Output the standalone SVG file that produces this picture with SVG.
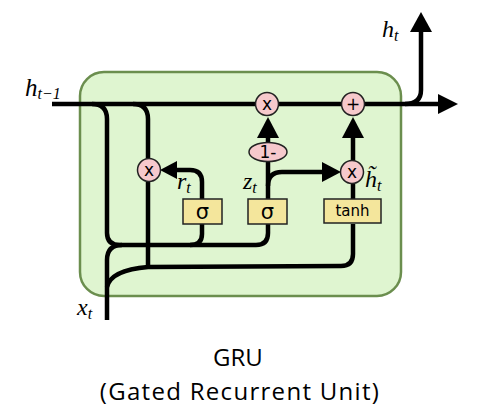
<svg xmlns="http://www.w3.org/2000/svg" width="477" height="414" viewBox="0 0 477 414">
<style>
.ln{fill:none;stroke:#000;stroke-width:4.5;stroke-linecap:butt;stroke-linejoin:round}
.ah{fill:#000;stroke:none}
.op{fill:#f6c9cc;stroke:#222;stroke-width:1.5}
.bx{fill:#f4e69c;stroke:#222;stroke-width:1.5}
.sym{font-family:"DejaVu Sans",sans-serif;font-size:17px;text-anchor:middle;fill:#000}
.math{font-family:"Liberation Serif",serif;font-style:italic;fill:#000}
.cap{font-family:"Open Sans","Noto Sans",sans-serif;font-size:24px;text-anchor:middle;fill:#000}
</style>
<rect id="cell" x="80" y="72" width="321" height="224" rx="24" fill="#dff5d0" stroke="#6b8e4e" stroke-width="2.5"/>
<g id="connectors">
<path class="ln" d="M52 104 L440 104"/>
<polygon class="ah" points="438,94 458,104 438,114"/>
<path class="ln" d="M405 104 Q421 104 421 90 L421 30"/>
<polygon class="ah" points="410,32 421,12 432,32"/>
<path class="ln" d="M92 104 Q107 104 107 119 L107 233 Q107 245 120 245 L256 245 Q268 245 268 233 L268 224"/>
<path class="ln" d="M202 224 L202 234 Q202 245 190 245"/>
<path class="ln" d="M133 104 Q148 104 148 119 L148 267"/>
<path class="ln" d="M107 320 L107 260 Q107 245 122 245"/>
<path class="ln" d="M107 287 Q111 270 148 267 L341 266 Q353 266 353 254 L353 224"/>
<path class="ln" d="M202 199 L202 182 Q202 170 190 170 L176 170"/>
<polygon class="ah" points="177,161 177,179 160,170"/>
<path class="ln" d="M268 199 L268 160"/>
<path class="ln" d="M268 186 Q268 172 282 172 L324 172"/>
<polygon class="ah" points="322,162 322,182 341,172"/>
<path class="ln" d="M268 143 L268 136"/>
<polygon class="ah" points="257,138 279,138 268,117"/>
<path class="ln" d="M353 199 L353 183"/>
<path class="ln" d="M353 161 L353 136"/>
<polygon class="ah" points="342,138 364,138 353,117"/>
</g>
<g id="mul_r"><circle class="op" cx="149" cy="170" r="11.5"/><text class="sym" x="149" y="176">x</text></g>
<g id="mul_z"><circle class="op" cx="267" cy="104" r="11.5"/><text class="sym" x="267" y="110">x</text></g>
<g id="add"><circle class="op" cx="353" cy="104" r="11.5"/><text class="sym" x="353" y="110">+</text></g>
<g id="mul_h"><circle class="op" cx="352" cy="172" r="11.5"/><text class="sym" x="352" y="178">x</text></g>
<g id="one_minus"><ellipse class="op" cx="268" cy="152" rx="19" ry="9.5"/><text class="sym" x="268" y="158">1-</text></g>
<g id="sigma_r"><rect class="bx" x="183" y="199" width="39" height="25"/><text class="sym" x="202.5" y="219" style="font-size:21px">σ</text></g>
<g id="sigma_z"><rect class="bx" x="248" y="199" width="39" height="25"/><text class="sym" x="267.5" y="219" style="font-size:21px">σ</text></g>
<g id="tanh"><rect class="bx" x="324" y="199" width="57" height="24"/><text class="sym" x="352.5" y="216" style="font-size:15px">tanh</text></g>
<g id="labels">
<text class="math" x="25" y="96" font-size="25">h<tspan font-size="16" dy="3">t−1</tspan></text>
<text class="math" x="382" y="37" font-size="24">h<tspan font-size="16" dy="4">t</tspan></text>
<text class="math" x="177" y="189" font-size="24">r<tspan font-size="16" dy="4">t</tspan></text>
<text class="math" x="243" y="189" font-size="24">z<tspan font-size="16" dy="4">t</tspan></text>
<text class="math" x="365" y="187" font-size="24">h̃<tspan font-size="16" dy="4">t</tspan></text>
<text class="math" x="77" y="315" font-size="24">x<tspan font-size="16" dy="4">t</tspan></text>
</g>
<g id="caption">
<text class="cap" x="238" y="366">GRU</text>
<text class="cap" x="240" y="399.5" letter-spacing="1.3">(Gated Recurrent Unit)</text>
</g>
</svg>
